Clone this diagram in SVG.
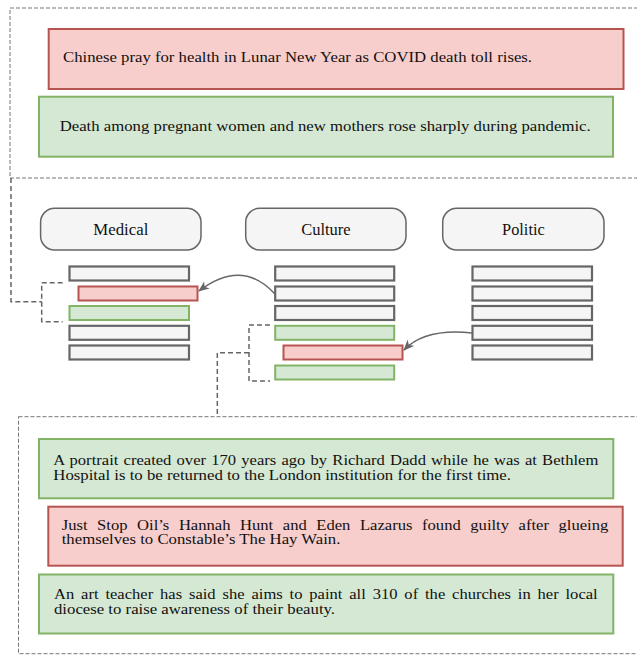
<svg xmlns="http://www.w3.org/2000/svg" width="637" height="655" viewBox="0 0 637 655">
<style>
.t{font-family:"Liberation Serif","Times New Roman","DejaVu Serif",serif;font-size:15px;fill:#111}
.lbl{font-family:"Liberation Serif","Times New Roman","DejaVu Serif",serif;font-size:17px;fill:#111;text-anchor:middle}
.red{fill:#f8cecc;stroke:#b85450;stroke-width:2}
.green{fill:#d5e8d4;stroke:#82b366;stroke-width:2}
.bar{fill:#f5f5f5;stroke:#666;stroke-width:2.2}
.pill{fill:#f5f5f5;stroke:#666;stroke-width:1.5}
.dash{fill:none;stroke:#777;stroke-width:1;stroke-dasharray:4 2}
.conn{fill:none;stroke:#666;stroke-width:1.5;stroke-dasharray:5 3}
.arr{fill:none;stroke:#666;stroke-width:1.5}
</style>
<defs>
<marker id="ah" markerWidth="11" markerHeight="9" refX="10" refY="4.5" orient="auto" markerUnits="userSpaceOnUse">
<path d="M0,0 L11,4.5 L0,9 L3,4.5 Z" fill="#666"/>
</marker>
</defs>

<g id="frame-top"><rect class="dash" x="10" y="8" width="700" height="170"/></g>
<g id="frame-bottom"><rect class="dash" x="18.5" y="416.7" width="700" height="237"/></g>

<g id="news-top-1">
<rect class="red" x="48.7" y="29" width="574.8" height="60"/>
<text class="t" x="63" y="61.7" textLength="469" lengthAdjust="spacingAndGlyphs">Chinese pray for health in Lunar New Year as COVID death toll rises.</text>
</g>
<g id="news-top-2">
<rect class="green" x="39" y="96.7" width="574" height="60"/>
<text class="t" x="59.7" y="131.3" textLength="531" lengthAdjust="spacingAndGlyphs">Death among pregnant women and new mothers rose sharply during pandemic.</text>
</g>

<g id="cat-medical">
<rect class="pill" x="40.6" y="208.3" width="160.4" height="41.7" rx="14"/>
<text class="lbl" x="120.8" y="235" textLength="55" lengthAdjust="spacingAndGlyphs">Medical</text>
</g>
<g id="cat-culture">
<rect class="pill" x="245.7" y="208.3" width="160.3" height="41.7" rx="14"/>
<text class="lbl" x="325.9" y="235" textLength="49.5" lengthAdjust="spacingAndGlyphs">Culture</text>
</g>
<g id="cat-politic">
<rect class="pill" x="442.7" y="208.3" width="161.3" height="41.7" rx="14"/>
<text class="lbl" x="523.4" y="235" textLength="42.6" lengthAdjust="spacingAndGlyphs">Politic</text>
</g>

<g id="stack-medical">
<rect class="bar" x="69.5" y="266.5" width="119.5" height="14"/>
<rect class="red" x="78.5" y="286.5" width="119" height="14"/>
<rect class="green" x="69.5" y="306" width="119.5" height="14"/>
<rect class="bar" x="69.5" y="325.8" width="119.5" height="14"/>
<rect class="bar" x="69.5" y="345.5" width="119.5" height="14"/>
</g>
<g id="stack-culture">
<rect class="bar" x="275.2" y="266.5" width="119" height="14"/>
<rect class="bar" x="275.2" y="286.5" width="119" height="14"/>
<rect class="bar" x="275.2" y="306" width="119" height="14"/>
<rect class="green" x="275.2" y="325.8" width="119" height="14"/>
<rect class="red" x="283.5" y="345.5" width="119" height="14"/>
<rect class="green" x="275.2" y="365.5" width="119" height="14"/>
</g>
<g id="stack-politic">
<rect class="bar" x="472.5" y="266.5" width="119.5" height="14"/>
<rect class="bar" x="472.5" y="286.5" width="119.5" height="14"/>
<rect class="bar" x="472.5" y="306" width="119.5" height="14"/>
<rect class="bar" x="472.5" y="325.8" width="119.5" height="14"/>
<rect class="bar" x="472.5" y="345.5" width="119.5" height="14"/>
</g>

<g id="connectors">
<path class="conn" d="M 11 178 V 301.7 H 41.7"/>
<path class="conn" d="M 62.7 282.7 H 41.7 V 321.7 H 62.7"/>
<path class="conn" d="M 270 325 H 249 V 381 H 270"/>
<path class="conn" d="M 249 352.7 H 217.3 V 416.7"/>
<path class="arr" d="M 275 294 Q 242 258 199 291" marker-end="url(#ah)"/>
<path class="arr" d="M 472 333 Q 425 328 404 350" marker-end="url(#ah)"/>
</g>

<g id="news-bottom-1">
<rect class="green" x="39" y="439" width="574.3" height="59.3"/>
<text class="t" x="53.3" y="465" textLength="545" lengthAdjust="spacingAndGlyphs" word-spacing="0.93">A portrait created over 170 years ago by Richard Dadd while he was at Bethlem</text>
<text class="t" x="53.3" y="479.7" textLength="457.7" lengthAdjust="spacingAndGlyphs">Hospital is to be returned to the London institution for the first time.</text>
</g>
<g id="news-bottom-2">
<rect class="red" x="48.3" y="506.7" width="574.4" height="59"/>
<text class="t" x="61.7" y="529.6" textLength="546.6" lengthAdjust="spacingAndGlyphs" word-spacing="4.9">Just Stop Oil’s Hannah Hunt and Eden Lazarus found guilty after glueing</text>
<text class="t" x="61.7" y="544.4" textLength="278.7" lengthAdjust="spacingAndGlyphs">themselves to Constable’s The Hay Wain.</text>
</g>
<g id="news-bottom-3">
<rect class="green" x="39" y="574.5" width="574.3" height="59"/>
<text class="t" x="54" y="599" textLength="543.7" lengthAdjust="spacingAndGlyphs" word-spacing="2.46">An art teacher has said she aims to paint all 310 of the churches in her local</text>
<text class="t" x="54" y="613.6" textLength="281" lengthAdjust="spacingAndGlyphs">diocese to raise awareness of their beauty.</text>
</g>
</svg>
